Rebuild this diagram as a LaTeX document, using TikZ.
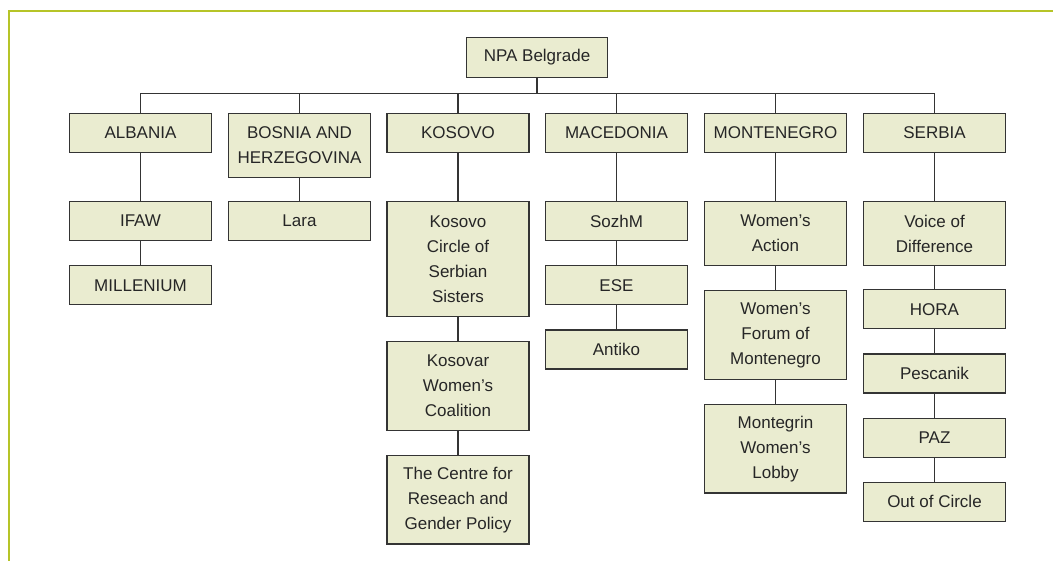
\documentclass[tikz,border=0pt]{standalone}
\usepackage{fontspec}
\setmainfont{Liberation Sans}
\usetikzlibrary{positioning}

\definecolor{boxfill}{RGB}{234,236,208}
\definecolor{boxline}{RGB}{52,52,52}
\definecolor{framegreen}{RGB}{182,196,40}

\tikzset{
  org/.style={draw=boxline, fill=boxfill, line width=1.2pt,
    minimum width=142pt, minimum height=39pt, inner xsep=2pt, inner ysep=2pt,
    align=center, text=black!85, font=\fontsize{17}{25}\selectfont},
  two/.style={minimum height=64pt},
  three/.style={minimum height=88.5pt},
  four/.style={minimum height=115pt},
  link/.style={draw=boxline, line width=1.1pt}
}

\begin{document}
\begin{tikzpicture}[x=1pt, y=-1pt, node distance=24pt]
\useasboundingbox (0,0) rectangle (1053,561);
\draw[framegreen, line width=1.6pt] (9,561) -- (9,11) -- (1053,11);

\node[org, anchor=north, minimum width=141pt, minimum height=40pt] (npa) at (537,37) {NPA Belgrade};

% countries
\node[org, anchor=north] (alb) at (140.5,113) {ALBANIA};
\node[org, two, anchor=north] (bih) at (299.5,113) {BOSNIA AND\\HERZEGOVINA};
\node[org, anchor=north] (kos) at (458,113) {KOSOVO};
\node[org, anchor=north] (mkd) at (616.5,113) {MACEDONIA};
\node[org, anchor=north] (mne) at (775.5,113) {MONTENEGRO};
\node[org, anchor=north] (srb) at (934.5,113) {SERBIA};

% organisations
\node[org, anchor=north] (ifaw) at (140.5,201) {IFAW};
\node[org, below=of ifaw] (mill) {MILLENIUM};

\node[org, anchor=north] (lara) at (299.5,201) {Lara};

\node[org, four, anchor=north] (kcss) at (458,201) {Kosovo\\Circle of\\Serbian\\Sisters};
\node[org, three, below=of kcss] (kwc) {Kosovar\\Women's\\Coalition};
\node[org, three, below=of kwc] (crgp) {The Centre for\\Reseach and\\Gender Policy};

\node[org, anchor=north] (sozhm) at (616.5,201) {SozhM};
\node[org, below=of sozhm] (ese) {ESE};
\node[org, below=of ese] (antiko) {Antiko};

\node[org, two, anchor=north] (wa) at (775.5,201) {Women's\\Action};
\node[org, three, below=of wa] (wfm) {Women's\\Forum of\\Montenegro};
\node[org, three, below=of wfm] (mwl) {Montegrin\\Women's\\Lobby};

\node[org, two, anchor=north] (vod) at (934.5,201) {Voice of\\Difference};
\node[org, below=23pt of vod] (hora) {HORA};
\node[org, below=of hora] (pesc) {Pescanik};
\node[org, below=of pesc] (paz) {PAZ};
\node[org, below=of paz] (ooc) {Out of Circle};

% connectors
\path (npa.south) ++(0,15) coordinate (bus);
\draw[link] (npa) -- (bus);
\foreach \c in {alb,bih,kos,mkd,mne,srb}
  \draw[link] (bus) -| (\c.north);

\draw[link] (alb) -- (ifaw);
\draw[link] (ifaw) -- (mill);
\draw[link] (bih) -- (lara);
\draw[link] (kos) -- (kcss);
\draw[link] (kcss) -- (kwc);
\draw[link] (kwc) -- (crgp);
\draw[link] (mkd) -- (sozhm);
\draw[link] (sozhm) -- (ese);
\draw[link] (ese) -- (antiko);
\draw[link] (mne) -- (wa);
\draw[link] (wa) -- (wfm);
\draw[link] (wfm) -- (mwl);
\draw[link] (srb) -- (vod);
\draw[link] (vod) -- (hora);
\draw[link] (hora) -- (pesc);
\draw[link] (pesc) -- (paz);
\draw[link] (paz) -- (ooc);
\end{tikzpicture}
\end{document}
